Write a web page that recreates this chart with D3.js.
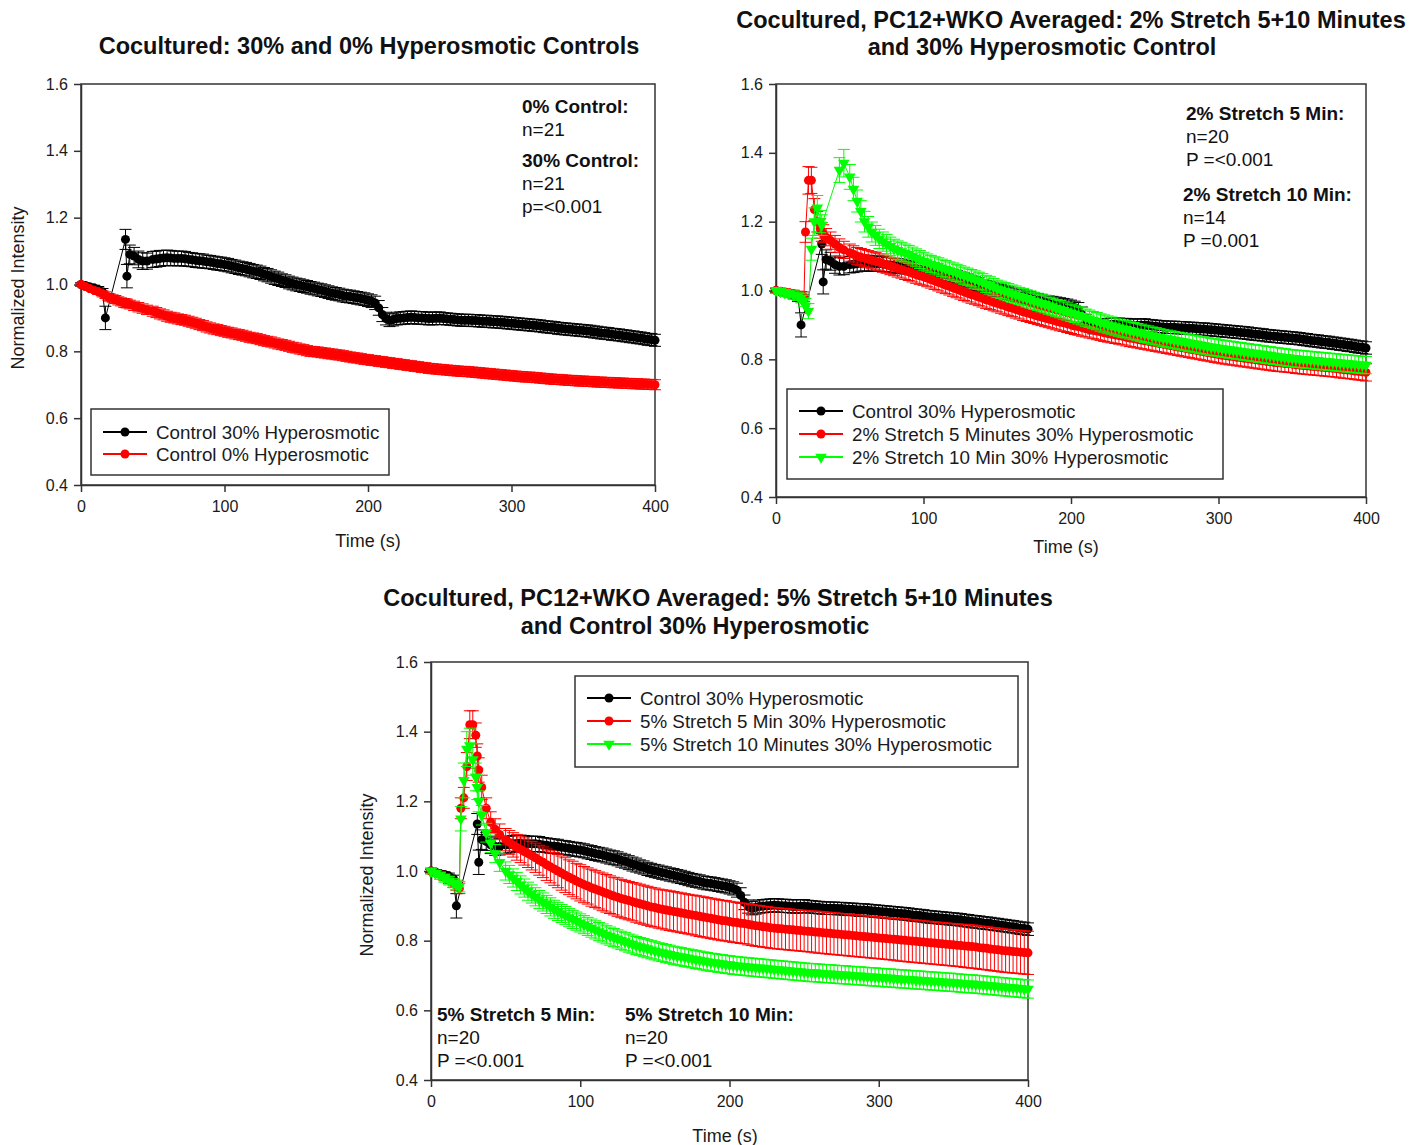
<!DOCTYPE html>
<html>
<head>
<meta charset="utf-8">
<script src="https://cdnjs.cloudflare.com/ajax/libs/d3/7.8.5/d3.min.js"></script>
<style>
  body { margin: 0; background: #fff; }
  svg { font-family: "Liberation Sans", Arial, sans-serif; }
  .axis text { font-size: 16px; fill: #1a1a1a; }
  .axis path, .axis line { stroke: #333; stroke-width: 1.5; }
</style>
</head>
<body>
<svg id="chart" width="1428" height="1145"></svg>
<script>
// time points (s), shared by every series
var timeS = [0, 3, 6, 9, 12, 15, 17, 19, 20, 22, 24, 26, 28, 30, 31, 32, 34, 37, 40, 43, 46, 50,
  52.5, 55, 57.5, 60, 62.5, 65, 67.5, 70, 72.5, 75, 77.5, 80, 82.5, 85, 87.5, 90, 92.5, 95, 97.5, 100,
  102.5, 105, 107.5, 110, 112.5, 115, 117.5, 120, 122.5, 125, 127.5, 130, 132.5, 135, 137.5, 140, 142.5, 145, 147.5, 150,
  152.5, 155, 157.5, 160, 162.5, 165, 167.5, 170, 172.5, 175, 177.5, 180, 182.5, 185, 187.5, 190, 192.5, 195, 197.5, 200,
  202.5, 205, 207.5, 210, 212.5, 215, 217.5, 220, 222.5, 225, 227.5, 230, 232.5, 235, 237.5, 240, 242.5, 245, 247.5, 250,
  252.5, 255, 257.5, 260, 262.5, 265, 267.5, 270, 272.5, 275, 277.5, 280, 282.5, 285, 287.5, 290, 292.5, 295, 297.5, 300,
  302.5, 305, 307.5, 310, 312.5, 315, 317.5, 320, 322.5, 325, 327.5, 330, 332.5, 335, 337.5, 340, 342.5, 345, 347.5, 350,
  352.5, 355, 357.5, 360, 362.5, 365, 367.5, 370, 372.5, 375, 377.5, 380, 382.5, 385, 387.5, 390, 392.5, 395, 397.5, 400];

// Control 30% Hyperosmotic (same in all three panels)
var control30 = [1.000, 0.997, 0.993, 0.990, 0.985, 0.978, 0.900, null, null, null, null, null, null, null, 1.135, 1.025, 1.090, 1.085, 1.075, 1.070, 1.070, 1.075,
  1.076, 1.078, 1.079, 1.080, 1.079, 1.078, 1.078, 1.078, 1.077, 1.075, 1.074, 1.072, 1.071, 1.070, 1.068, 1.067, 1.065, 1.063, 1.062, 1.060,
  1.058, 1.055, 1.053, 1.050, 1.048, 1.046, 1.043, 1.040, 1.038, 1.035, 1.031, 1.028, 1.024, 1.020, 1.017, 1.013, 1.010, 1.006, 1.003, 1.000,
  0.998, 0.995, 0.993, 0.990, 0.988, 0.985, 0.983, 0.980, 0.977, 0.974, 0.972, 0.970, 0.967, 0.965, 0.964, 0.962, 0.960, 0.958, 0.956, 0.953,
  0.950, 0.945, 0.930, 0.910, 0.898, 0.893, 0.895, 0.898, 0.899, 0.900, 0.901, 0.902, 0.901, 0.900, 0.900, 0.899, 0.898, 0.898, 0.899, 0.899,
  0.898, 0.897, 0.896, 0.895, 0.894, 0.893, 0.893, 0.893, 0.892, 0.892, 0.891, 0.890, 0.890, 0.889, 0.888, 0.888, 0.887, 0.886, 0.885, 0.884,
  0.883, 0.882, 0.881, 0.880, 0.879, 0.878, 0.877, 0.876, 0.874, 0.873, 0.872, 0.871, 0.869, 0.868, 0.867, 0.866, 0.865, 0.864, 0.863, 0.862,
  0.861, 0.860, 0.858, 0.857, 0.855, 0.854, 0.853, 0.851, 0.850, 0.849, 0.847, 0.846, 0.844, 0.843, 0.841, 0.840, 0.838, 0.836, 0.835, 0.833];
var control30Err = [0.005, 0.006, 0.007, 0.008, 0.009, 0.010, 0.035, null, null, null, null, null, null, null, 0.030, 0.035, 0.028, 0.026, 0.025, 0.025, 0.024, 0.024,
  0.024, 0.024, 0.023, 0.023, 0.023, 0.022, 0.022, 0.022, 0.022, 0.021, 0.021, 0.021, 0.021, 0.021, 0.020, 0.020, 0.020, 0.020, 0.020, 0.020,
  0.020, 0.020, 0.020, 0.020, 0.020, 0.020, 0.020, 0.020, 0.020, 0.020, 0.020, 0.020, 0.020, 0.020, 0.020, 0.019, 0.019, 0.019, 0.019, 0.019,
  0.019, 0.019, 0.019, 0.019, 0.019, 0.019, 0.019, 0.019, 0.019, 0.019, 0.019, 0.019, 0.019, 0.019, 0.019, 0.019, 0.019, 0.019, 0.019, 0.019,
  0.019, 0.020, 0.022, 0.021, 0.019, 0.019, 0.019, 0.019, 0.019, 0.019, 0.019, 0.019, 0.019, 0.019, 0.019, 0.019, 0.019, 0.019, 0.019, 0.019,
  0.018, 0.018, 0.018, 0.018, 0.018, 0.018, 0.018, 0.018, 0.018, 0.018, 0.018, 0.018, 0.018, 0.018, 0.018, 0.018, 0.018, 0.018, 0.018, 0.018,
  0.018, 0.018, 0.018, 0.018, 0.018, 0.018, 0.018, 0.018, 0.018, 0.018, 0.018, 0.018, 0.018, 0.018, 0.018, 0.018, 0.018, 0.018, 0.018, 0.018,
  0.018, 0.018, 0.018, 0.018, 0.018, 0.018, 0.018, 0.018, 0.018, 0.018, 0.018, 0.018, 0.018, 0.018, 0.018, 0.018, 0.018, 0.018, 0.018, 0.018];

// Control 0% Hyperosmotic
var control0 = [1.000, 0.994, 0.988, 0.983, 0.978, 0.972, 0.968, 0.963, 0.961, 0.958, 0.955, 0.951, 0.948, 0.945, 0.944, 0.943, 0.940, 0.936, 0.932, 0.928, 0.924, 0.920,
  0.916, 0.912, 0.909, 0.905, 0.902, 0.900, 0.897, 0.895, 0.893, 0.890, 0.887, 0.884, 0.880, 0.877, 0.873, 0.870, 0.867, 0.865, 0.862, 0.860,
  0.857, 0.855, 0.852, 0.850, 0.848, 0.845, 0.842, 0.840, 0.838, 0.835, 0.832, 0.830, 0.828, 0.825, 0.822, 0.820, 0.818, 0.815, 0.812, 0.810,
  0.807, 0.805, 0.802, 0.800, 0.799, 0.798, 0.796, 0.795, 0.793, 0.792, 0.790, 0.789, 0.787, 0.785, 0.783, 0.781, 0.780, 0.778, 0.776, 0.775,
  0.773, 0.772, 0.770, 0.769, 0.767, 0.766, 0.764, 0.763, 0.761, 0.760, 0.758, 0.757, 0.755, 0.754, 0.752, 0.751, 0.749, 0.748, 0.747, 0.746,
  0.745, 0.744, 0.743, 0.742, 0.741, 0.740, 0.740, 0.739, 0.738, 0.737, 0.736, 0.735, 0.734, 0.733, 0.732, 0.731, 0.730, 0.729, 0.728, 0.727,
  0.726, 0.725, 0.724, 0.723, 0.723, 0.722, 0.721, 0.720, 0.719, 0.718, 0.717, 0.716, 0.716, 0.715, 0.714, 0.713, 0.713, 0.712, 0.711, 0.711,
  0.710, 0.710, 0.709, 0.708, 0.708, 0.707, 0.707, 0.706, 0.706, 0.705, 0.705, 0.704, 0.704, 0.703, 0.703, 0.702, 0.702, 0.701, 0.701, 0.700];
var control0Err = [0.004, 0.005, 0.006, 0.007, 0.008, 0.009, 0.010, 0.010, 0.011, 0.011, 0.012, 0.012, 0.012, 0.013, 0.013, 0.013, 0.013, 0.014, 0.014, 0.014, 0.014, 0.015,
  0.015, 0.015, 0.015, 0.015, 0.015, 0.015, 0.015, 0.015, 0.015, 0.015, 0.015, 0.015, 0.015, 0.015, 0.015, 0.015, 0.015, 0.015, 0.015, 0.015,
  0.015, 0.015, 0.015, 0.015, 0.015, 0.015, 0.015, 0.015, 0.015, 0.015, 0.015, 0.015, 0.015, 0.015, 0.015, 0.015, 0.015, 0.015, 0.015, 0.015,
  0.015, 0.015, 0.015, 0.015, 0.015, 0.015, 0.015, 0.015, 0.015, 0.015, 0.015, 0.015, 0.015, 0.015, 0.015, 0.015, 0.015, 0.015, 0.015, 0.015,
  0.015, 0.015, 0.015, 0.015, 0.015, 0.015, 0.015, 0.015, 0.015, 0.015, 0.015, 0.015, 0.015, 0.015, 0.015, 0.015, 0.015, 0.015, 0.015, 0.015,
  0.015, 0.015, 0.015, 0.015, 0.015, 0.015, 0.015, 0.015, 0.015, 0.015, 0.015, 0.015, 0.015, 0.015, 0.015, 0.015, 0.015, 0.015, 0.015, 0.015,
  0.015, 0.015, 0.015, 0.015, 0.015, 0.015, 0.015, 0.015, 0.015, 0.015, 0.015, 0.015, 0.015, 0.015, 0.015, 0.015, 0.015, 0.015, 0.015, 0.015,
  0.015, 0.015, 0.015, 0.015, 0.015, 0.015, 0.015, 0.015, 0.015, 0.015, 0.015, 0.015, 0.015, 0.015, 0.015, 0.015, 0.015, 0.015, 0.015, 0.015];

// 2% Stretch 5 Minutes 30% Hyperosmotic
var stretch2p5 = [1.000, 0.998, 0.995, 0.993, 0.990, 0.987, 0.985, 0.982, 1.170, 1.320, 1.320, 1.235, 1.200, 1.180, 1.170, 1.165, 1.155, 1.145, 1.135, 1.125, 1.118, 1.110,
  1.105, 1.100, 1.097, 1.094, 1.091, 1.088, 1.085, 1.082, 1.078, 1.075, 1.071, 1.068, 1.064, 1.061, 1.057, 1.054, 1.050, 1.046, 1.043, 1.040,
  1.036, 1.032, 1.028, 1.024, 1.020, 1.016, 1.012, 1.008, 1.004, 1.000, 0.996, 0.992, 0.988, 0.985, 0.981, 0.977, 0.973, 0.970, 0.966, 0.963,
  0.959, 0.956, 0.952, 0.949, 0.945, 0.942, 0.938, 0.935, 0.932, 0.929, 0.926, 0.923, 0.920, 0.917, 0.914, 0.911, 0.908, 0.906, 0.903, 0.900,
  0.897, 0.895, 0.892, 0.890, 0.887, 0.885, 0.882, 0.880, 0.877, 0.875, 0.873, 0.871, 0.869, 0.867, 0.864, 0.862, 0.860, 0.858, 0.856, 0.854,
  0.852, 0.850, 0.848, 0.846, 0.844, 0.842, 0.840, 0.838, 0.836, 0.834, 0.832, 0.830, 0.828, 0.826, 0.824, 0.822, 0.820, 0.818, 0.816, 0.814,
  0.812, 0.811, 0.809, 0.808, 0.806, 0.805, 0.803, 0.802, 0.800, 0.799, 0.797, 0.796, 0.794, 0.793, 0.791, 0.790, 0.789, 0.788, 0.787, 0.786,
  0.784, 0.783, 0.782, 0.781, 0.780, 0.779, 0.778, 0.777, 0.776, 0.775, 0.774, 0.773, 0.771, 0.770, 0.769, 0.768, 0.766, 0.765, 0.764, 0.762];
var stretch2p5Err = [0.008, 0.009, 0.010, 0.010, 0.011, 0.011, 0.012, 0.014, 0.030, 0.040, 0.038, 0.032, 0.030, 0.028, 0.027, 0.026, 0.025, 0.025, 0.025, 0.025, 0.025, 0.025,
  0.025, 0.025, 0.025, 0.025, 0.025, 0.025, 0.025, 0.025, 0.025, 0.025, 0.025, 0.025, 0.025, 0.025, 0.025, 0.025, 0.025, 0.025, 0.025, 0.025,
  0.025, 0.025, 0.025, 0.025, 0.025, 0.025, 0.025, 0.025, 0.025, 0.025, 0.025, 0.025, 0.025, 0.025, 0.025, 0.025, 0.025, 0.025, 0.025, 0.025,
  0.025, 0.025, 0.025, 0.025, 0.025, 0.025, 0.025, 0.025, 0.025, 0.025, 0.025, 0.025, 0.025, 0.025, 0.025, 0.025, 0.025, 0.025, 0.025, 0.025,
  0.025, 0.025, 0.025, 0.025, 0.025, 0.025, 0.025, 0.025, 0.025, 0.025, 0.025, 0.025, 0.025, 0.025, 0.025, 0.025, 0.025, 0.025, 0.025, 0.025,
  0.025, 0.025, 0.025, 0.025, 0.025, 0.025, 0.025, 0.025, 0.025, 0.025, 0.025, 0.025, 0.025, 0.025, 0.025, 0.025, 0.025, 0.025, 0.025, 0.025,
  0.025, 0.025, 0.025, 0.025, 0.025, 0.025, 0.025, 0.025, 0.025, 0.025, 0.025, 0.025, 0.025, 0.025, 0.025, 0.025, 0.025, 0.025, 0.025, 0.025,
  0.025, 0.025, 0.025, 0.025, 0.025, 0.025, 0.025, 0.025, 0.025, 0.025, 0.025, 0.025, 0.025, 0.025, 0.025, 0.025, 0.025, 0.025, 0.025, 0.025];

// 2% Stretch 10 Min 30% Hyperosmotic
var stretch2p10 = [1.000, 0.997, 0.993, 0.990, 0.987, 0.983, 0.978, 0.970, 0.955, 0.940, 1.120, 1.200, 1.240, 1.200, 1.190, null, null, null, null, 1.350, 1.370, 1.330,
  1.295, 1.260, 1.230, 1.200, 1.185, 1.170, 1.160, 1.150, 1.142, 1.135, 1.128, 1.122, 1.117, 1.113, 1.109, 1.105, 1.100, 1.095, 1.090, 1.085,
  1.081, 1.077, 1.073, 1.070, 1.066, 1.062, 1.058, 1.055, 1.051, 1.047, 1.043, 1.040, 1.036, 1.032, 1.028, 1.024, 1.019, 1.015, 1.010, 1.005,
  1.002, 0.998, 0.995, 0.991, 0.988, 0.984, 0.981, 0.977, 0.974, 0.970, 0.967, 0.963, 0.960, 0.956, 0.953, 0.949, 0.946, 0.942, 0.939, 0.935,
  0.932, 0.928, 0.925, 0.921, 0.918, 0.914, 0.911, 0.907, 0.904, 0.901, 0.898, 0.895, 0.892, 0.889, 0.887, 0.884, 0.882, 0.879, 0.877, 0.874,
  0.872, 0.869, 0.867, 0.864, 0.862, 0.860, 0.858, 0.856, 0.854, 0.852, 0.850, 0.848, 0.846, 0.844, 0.842, 0.840, 0.838, 0.836, 0.835, 0.833,
  0.831, 0.830, 0.828, 0.827, 0.825, 0.824, 0.822, 0.821, 0.819, 0.818, 0.816, 0.815, 0.813, 0.812, 0.810, 0.809, 0.807, 0.806, 0.804, 0.803,
  0.802, 0.801, 0.800, 0.799, 0.798, 0.797, 0.796, 0.795, 0.794, 0.793, 0.792, 0.791, 0.790, 0.789, 0.788, 0.787, 0.786, 0.785, 0.784, 0.783];
var stretch2p10Err = [0.008, 0.009, 0.010, 0.011, 0.012, 0.012, 0.014, 0.016, 0.022, 0.022, 0.032, 0.040, 0.036, 0.032, 0.030, null, null, null, null, 0.036, 0.040, 0.036,
  0.034, 0.032, 0.031, 0.030, 0.030, 0.029, 0.029, 0.028, 0.028, 0.028, 0.027, 0.027, 0.027, 0.027, 0.026, 0.026, 0.026, 0.026, 0.026, 0.026,
  0.025, 0.025, 0.025, 0.025, 0.025, 0.025, 0.025, 0.025, 0.025, 0.025, 0.025, 0.025, 0.025, 0.025, 0.025, 0.025, 0.025, 0.025, 0.025, 0.025,
  0.025, 0.025, 0.025, 0.025, 0.025, 0.025, 0.025, 0.025, 0.025, 0.025, 0.025, 0.025, 0.025, 0.025, 0.025, 0.025, 0.025, 0.025, 0.025, 0.025,
  0.025, 0.025, 0.025, 0.025, 0.025, 0.025, 0.025, 0.025, 0.025, 0.025, 0.025, 0.025, 0.025, 0.025, 0.025, 0.025, 0.025, 0.025, 0.025, 0.025,
  0.025, 0.025, 0.025, 0.025, 0.025, 0.025, 0.025, 0.025, 0.025, 0.025, 0.025, 0.025, 0.025, 0.025, 0.025, 0.025, 0.025, 0.025, 0.025, 0.025,
  0.025, 0.025, 0.025, 0.025, 0.025, 0.025, 0.025, 0.025, 0.025, 0.025, 0.025, 0.025, 0.025, 0.025, 0.025, 0.025, 0.025, 0.025, 0.025, 0.025,
  0.025, 0.025, 0.025, 0.025, 0.025, 0.025, 0.025, 0.025, 0.025, 0.025, 0.025, 0.025, 0.025, 0.025, 0.025, 0.025, 0.025, 0.025, 0.025, 0.025];

// 5% Stretch 5 Min 30% Hyperosmotic
var stretch5p5 = [1.000, 0.995, 0.990, 0.983, 0.975, 0.965, 0.958, 0.950, 1.180, 1.210, 1.300, 1.420, 1.420, 1.390, 1.330, 1.290, 1.240, 1.180, 1.140, 1.120, 1.105, 1.090,
  1.082, 1.075, 1.068, 1.062, 1.056, 1.050, 1.044, 1.038, 1.031, 1.025, 1.018, 1.012, 1.006, 1.000, 0.994, 0.988, 0.982, 0.977, 0.971, 0.966,
  0.961, 0.957, 0.952, 0.948, 0.944, 0.940, 0.936, 0.932, 0.928, 0.925, 0.921, 0.918, 0.915, 0.912, 0.909, 0.906, 0.903, 0.900, 0.897, 0.895,
  0.892, 0.890, 0.888, 0.886, 0.884, 0.882, 0.880, 0.878, 0.876, 0.874, 0.872, 0.870, 0.868, 0.866, 0.864, 0.862, 0.860, 0.858, 0.857, 0.855,
  0.853, 0.852, 0.850, 0.849, 0.847, 0.845, 0.843, 0.842, 0.840, 0.839, 0.837, 0.836, 0.835, 0.834, 0.833, 0.832, 0.831, 0.830, 0.829, 0.828,
  0.827, 0.826, 0.825, 0.824, 0.823, 0.822, 0.821, 0.820, 0.819, 0.818, 0.817, 0.816, 0.815, 0.814, 0.813, 0.812, 0.811, 0.810, 0.809, 0.808,
  0.807, 0.806, 0.805, 0.804, 0.803, 0.802, 0.801, 0.800, 0.799, 0.798, 0.797, 0.796, 0.795, 0.794, 0.793, 0.792, 0.791, 0.790, 0.789, 0.788,
  0.787, 0.786, 0.785, 0.784, 0.783, 0.782, 0.780, 0.779, 0.778, 0.776, 0.775, 0.774, 0.772, 0.771, 0.770, 0.769, 0.768, 0.767, 0.766, 0.765];
var stretch5p5Err = [0.008, 0.008, 0.009, 0.010, 0.011, 0.012, 0.013, 0.015, 0.030, 0.030, 0.040, 0.040, 0.040, 0.035, 0.035, 0.035, 0.035, 0.030, 0.030, 0.030, 0.030, 0.032,
  0.034, 0.035, 0.037, 0.038, 0.039, 0.040, 0.041, 0.042, 0.043, 0.044, 0.045, 0.046, 0.047, 0.048, 0.049, 0.050, 0.050, 0.051, 0.051, 0.052,
  0.052, 0.052, 0.053, 0.053, 0.053, 0.054, 0.054, 0.054, 0.054, 0.055, 0.055, 0.055, 0.055, 0.055, 0.056, 0.056, 0.056, 0.056, 0.056, 0.056,
  0.056, 0.056, 0.057, 0.057, 0.057, 0.057, 0.057, 0.057, 0.057, 0.057, 0.058, 0.058, 0.058, 0.058, 0.058, 0.058, 0.058, 0.058, 0.058, 0.058,
  0.058, 0.058, 0.058, 0.058, 0.059, 0.059, 0.059, 0.059, 0.059, 0.059, 0.059, 0.059, 0.059, 0.059, 0.059, 0.059, 0.059, 0.059, 0.059, 0.059,
  0.059, 0.059, 0.060, 0.060, 0.060, 0.060, 0.060, 0.060, 0.060, 0.060, 0.060, 0.060, 0.060, 0.060, 0.060, 0.060, 0.060, 0.060, 0.060, 0.060,
  0.060, 0.060, 0.060, 0.060, 0.061, 0.061, 0.061, 0.061, 0.061, 0.061, 0.061, 0.061, 0.061, 0.061, 0.061, 0.061, 0.061, 0.061, 0.061, 0.061,
  0.061, 0.061, 0.062, 0.062, 0.062, 0.062, 0.062, 0.062, 0.062, 0.062, 0.062, 0.062, 0.062, 0.062, 0.062, 0.062, 0.062, 0.062, 0.062, 0.062];

// 5% Stretch 10 Minutes 30% Hyperosmotic
var stretch5p10 = [1.000, 0.993, 0.986, 0.979, 0.972, 0.965, 0.960, 0.955, 1.150, 1.260, 1.350, 1.360, 1.320, 1.270, 1.240, 1.200, 1.160, 1.110, 1.080, 1.050, 1.025, 1.000,
  0.990, 0.980, 0.970, 0.960, 0.951, 0.942, 0.934, 0.926, 0.918, 0.911, 0.904, 0.897, 0.890, 0.884, 0.878, 0.872, 0.866, 0.861, 0.856, 0.851,
  0.846, 0.841, 0.836, 0.831, 0.826, 0.822, 0.817, 0.813, 0.809, 0.805, 0.801, 0.797, 0.793, 0.790, 0.786, 0.783, 0.780, 0.777, 0.774, 0.771,
  0.768, 0.766, 0.763, 0.761, 0.758, 0.756, 0.754, 0.752, 0.750, 0.748, 0.746, 0.744, 0.742, 0.740, 0.738, 0.737, 0.735, 0.734, 0.732, 0.731,
  0.729, 0.728, 0.727, 0.726, 0.725, 0.724, 0.723, 0.722, 0.721, 0.720, 0.719, 0.718, 0.717, 0.716, 0.715, 0.714, 0.713, 0.712, 0.711, 0.710,
  0.709, 0.708, 0.708, 0.707, 0.706, 0.705, 0.705, 0.704, 0.703, 0.702, 0.702, 0.701, 0.700, 0.699, 0.699, 0.698, 0.697, 0.696, 0.696, 0.695,
  0.694, 0.693, 0.693, 0.692, 0.691, 0.690, 0.690, 0.689, 0.688, 0.687, 0.687, 0.686, 0.685, 0.684, 0.684, 0.683, 0.682, 0.681, 0.681, 0.680,
  0.679, 0.678, 0.677, 0.676, 0.676, 0.675, 0.674, 0.673, 0.672, 0.671, 0.670, 0.669, 0.668, 0.667, 0.666, 0.665, 0.664, 0.663, 0.662, 0.661];
var stretch5p10Err = [0.008, 0.009, 0.010, 0.011, 0.012, 0.013, 0.014, 0.015, 0.035, 0.050, 0.050, 0.050, 0.045, 0.040, 0.035, 0.030, 0.028, 0.027, 0.027, 0.026, 0.026, 0.026,
  0.026, 0.026, 0.026, 0.026, 0.026, 0.026, 0.026, 0.026, 0.026, 0.026, 0.026, 0.026, 0.026, 0.026, 0.026, 0.026, 0.026, 0.026, 0.026, 0.026,
  0.026, 0.026, 0.026, 0.026, 0.026, 0.026, 0.026, 0.026, 0.026, 0.026, 0.026, 0.026, 0.026, 0.026, 0.026, 0.026, 0.026, 0.026, 0.026, 0.026,
  0.026, 0.026, 0.026, 0.026, 0.026, 0.026, 0.026, 0.026, 0.026, 0.026, 0.026, 0.026, 0.026, 0.026, 0.026, 0.026, 0.026, 0.026, 0.026, 0.026,
  0.026, 0.026, 0.026, 0.026, 0.026, 0.026, 0.026, 0.026, 0.026, 0.026, 0.026, 0.026, 0.026, 0.026, 0.026, 0.026, 0.026, 0.026, 0.026, 0.026,
  0.026, 0.026, 0.026, 0.026, 0.026, 0.026, 0.026, 0.026, 0.026, 0.026, 0.026, 0.026, 0.026, 0.026, 0.026, 0.026, 0.026, 0.026, 0.026, 0.026,
  0.026, 0.026, 0.026, 0.026, 0.026, 0.026, 0.026, 0.026, 0.026, 0.026, 0.026, 0.026, 0.026, 0.026, 0.026, 0.026, 0.026, 0.026, 0.026, 0.026,
  0.026, 0.026, 0.026, 0.026, 0.026, 0.026, 0.026, 0.026, 0.026, 0.026, 0.026, 0.026, 0.026, 0.026, 0.026, 0.026, 0.026, 0.026, 0.026, 0.026];

var xTicks = [0, 100, 200, 300, 400];
var yTicks = [0.4, 0.6, 0.8, 1.0, 1.2, 1.4, 1.6];

var sControl30 = {name: "Control 30% Hyperosmotic", values: control30, errors: control30Err, color: "#000000", shape: "circle"};

var panels = [
  {
    left: 81, right: 655, top: 84, bottom: 485,
    title: [{text: "Cocultured: 30% and 0% Hyperosmotic Controls", x: 369, y: 54}],
    xLabel: {x: 368, y: 547}, yLabel: {x: 24, y: 288},
    legend: {x: 91, y: 409, w: 298, h: 66, rowY: [432, 454]},
    series: [sControl30,
      {name: "Control 0% Hyperosmotic", values: control0, errors: control0Err, color: "#ff0000", shape: "circle"}],
    notes: [
      {text: "0% Control:", x: 522, y: 106, bold: true},
      {text: "n=21", x: 522, y: 129},
      {text: "30% Control:", x: 522, y: 160, bold: true},
      {text: "n=21", x: 522, y: 183},
      {text: "p=<0.001", x: 522, y: 206}]
  },
  {
    left: 776, right: 1366, top: 84, bottom: 497,
    title: [{text: "Cocultured, PC12+WKO Averaged: 2% Stretch 5+10 Minutes", x: 1071, y: 28},
            {text: "and 30% Hyperosmotic Control", x: 1042, y: 55}],
    xLabel: {x: 1066, y: 553}, yLabel: null,
    legend: {x: 787, y: 389, w: 436, h: 90, rowY: [411, 434, 457]},
    series: [sControl30,
      {name: "2% Stretch 5 Minutes 30% Hyperosmotic", values: stretch2p5, errors: stretch2p5Err, color: "#ff0000", shape: "circle"},
      {name: "2% Stretch 10 Min 30% Hyperosmotic", values: stretch2p10, errors: stretch2p10Err, color: "#00ff00", shape: "triangle"}],
    notes: [
      {text: "2% Stretch 5 Min:", x: 1186, y: 113, bold: true},
      {text: "n=20", x: 1186, y: 136},
      {text: "P =<0.001", x: 1186, y: 159},
      {text: "2% Stretch 10 Min:", x: 1183, y: 194, bold: true},
      {text: "n=14", x: 1183, y: 217},
      {text: "P =0.001", x: 1183, y: 240}]
  },
  {
    left: 431, right: 1028, top: 662, bottom: 1080,
    title: [{text: "Cocultured, PC12+WKO Averaged: 5% Stretch 5+10 Minutes", x: 718, y: 606},
            {text: "and Control 30% Hyperosmotic", x: 695, y: 634}],
    xLabel: {x: 725, y: 1142}, yLabel: {x: 373, y: 875},
    legend: {x: 575, y: 676, w: 443, h: 91, rowY: [698, 721, 744]},
    series: [sControl30,
      {name: "5% Stretch 5 Min 30% Hyperosmotic", values: stretch5p5, errors: stretch5p5Err, color: "#ff0000", shape: "circle"},
      {name: "5% Stretch 10 Minutes 30% Hyperosmotic", values: stretch5p10, errors: stretch5p10Err, color: "#00ff00", shape: "triangle"}],
    notes: [
      {text: "5% Stretch 5 Min:", x: 437, y: 1014, bold: true},
      {text: "n=20", x: 437, y: 1037},
      {text: "P =<0.001", x: 437, y: 1060},
      {text: "5% Stretch 10 Min:", x: 625, y: 1014, bold: true},
      {text: "n=20", x: 625, y: 1037},
      {text: "P =<0.001", x: 625, y: 1060}]
  }
];

var svg = d3.select("#chart");
svg.append("rect").attr("width", 1428).attr("height", 1145).attr("fill", "#fff");

var triangle = d3.symbol().type(d3.symbolTriangle).size(58);

function drawMarker(sel, s, cx, cy) {
  if (s.shape === "triangle") {
    sel.append("path")
      .attr("d", triangle)
      .attr("transform", "translate(" + cx + "," + cy + ") rotate(180)")
      .attr("fill", s.color);
  } else {
    sel.append("circle").attr("cx", cx).attr("cy", cy).attr("r", 4.5).attr("fill", s.color);
  }
}

panels.forEach(function (p) {
  var x = d3.scaleLinear().domain([0, 400]).range([p.left, p.right]);
  var y = d3.scaleLinear().domain([0.4, 1.6]).range([p.bottom, p.top]);
  var g = svg.append("g");

  g.append("g")
    .attr("class", "axis")
    .attr("transform", "translate(0," + p.bottom + ")")
    .call(d3.axisBottom(x).tickValues(xTicks).tickSize(7).tickSizeOuter(0).tickPadding(9).tickFormat(d3.format("d")));

  g.append("g")
    .attr("class", "axis")
    .attr("transform", "translate(" + p.left + ",0)")
    .call(d3.axisLeft(y).tickValues(yTicks).tickSize(7).tickSizeOuter(0).tickPadding(6).tickFormat(d3.format(".1f")));

  g.append("rect")
    .attr("x", p.left).attr("y", p.top)
    .attr("width", p.right - p.left).attr("height", p.bottom - p.top)
    .attr("fill", "none").attr("stroke", "#333").attr("stroke-width", 1.5);

  p.series.forEach(function (s) {
    var pts = timeS.map(function (t, i) {
      return {t: t, v: s.values[i], e: s.errors[i]};
    }).filter(function (d) { return d.v !== null; });

    var sg = g.append("g");
    sg.append("path")
      .datum(pts)
      .attr("fill", "none")
      .attr("stroke", s.color)
      .attr("stroke-width", 1)
      .attr("d", d3.line().x(function (d) { return x(d.t); }).y(function (d) { return y(d.v); }));

    // error bars with caps
    var eb = sg.selectAll(".err").data(pts).enter().append("g").attr("class", "err")
      .attr("stroke", s.color).attr("stroke-width", 1);
    eb.append("line")
      .attr("x1", function (d) { return x(d.t); }).attr("x2", function (d) { return x(d.t); })
      .attr("y1", function (d) { return y(d.v - d.e); }).attr("y2", function (d) { return y(d.v + d.e); });
    eb.append("line")
      .attr("x1", function (d) { return x(d.t) - 6; }).attr("x2", function (d) { return x(d.t) + 6; })
      .attr("y1", function (d) { return y(d.v + d.e); }).attr("y2", function (d) { return y(d.v + d.e); });
    eb.append("line")
      .attr("x1", function (d) { return x(d.t) - 6; }).attr("x2", function (d) { return x(d.t) + 6; })
      .attr("y1", function (d) { return y(d.v - d.e); }).attr("y2", function (d) { return y(d.v - d.e); });

    if (s.shape === "triangle") {
      sg.selectAll(".mk").data(pts).enter().append("path").attr("class", "mk")
        .attr("d", triangle)
        .attr("transform", function (d) { return "translate(" + x(d.t) + "," + y(d.v) + ") rotate(180)"; })
        .attr("fill", s.color);
    } else {
      sg.selectAll(".mk").data(pts).enter().append("circle").attr("class", "mk")
        .attr("cx", function (d) { return x(d.t); })
        .attr("cy", function (d) { return y(d.v); })
        .attr("r", 4.5)
        .attr("fill", s.color);
    }
  });

  // legend
  var lg = g.append("g");
  lg.append("rect")
    .attr("x", p.legend.x).attr("y", p.legend.y)
    .attr("width", p.legend.w).attr("height", p.legend.h)
    .attr("fill", "#fff").attr("stroke", "#333").attr("stroke-width", 1.5);
  p.series.forEach(function (s, i) {
    var ly = p.legend.rowY[i];
    var lx = p.legend.x + 12;
    lg.append("line").attr("x1", lx).attr("x2", lx + 44).attr("y1", ly).attr("y2", ly)
      .attr("stroke", s.color).attr("stroke-width", 2);
    drawMarker(lg, s, lx + 22, ly);
    lg.append("text").attr("x", lx + 53).attr("y", ly + 6.5)
      .attr("font-size", "18.8px").attr("fill", "#1a1a1a").text(s.name);
  });

  // titles
  p.title.forEach(function (t) {
    g.append("text").attr("x", t.x).attr("y", t.y).attr("text-anchor", "middle")
      .attr("font-size", "23.5px").attr("font-weight", "bold").attr("fill", "#111").text(t.text);
  });

  // axis labels
  g.append("text").attr("x", p.xLabel.x).attr("y", p.xLabel.y).attr("text-anchor", "middle")
    .attr("font-size", "18px").attr("fill", "#1a1a1a").text("Time (s)");
  if (p.yLabel) {
    g.append("text")
      .attr("transform", "translate(" + p.yLabel.x + "," + p.yLabel.y + ") rotate(-90)")
      .attr("text-anchor", "middle")
      .attr("font-size", "18px").attr("fill", "#1a1a1a").text("Normalized Intensity");
  }

  // annotations
  p.notes.forEach(function (n) {
    g.append("text").attr("x", n.x).attr("y", n.y + 6.5)
      .attr("font-size", "19px")
      .attr("font-weight", n.bold ? "bold" : "normal")
      .attr("fill", "#111").text(n.text);
  });
});
</script>
</body>
</html>
